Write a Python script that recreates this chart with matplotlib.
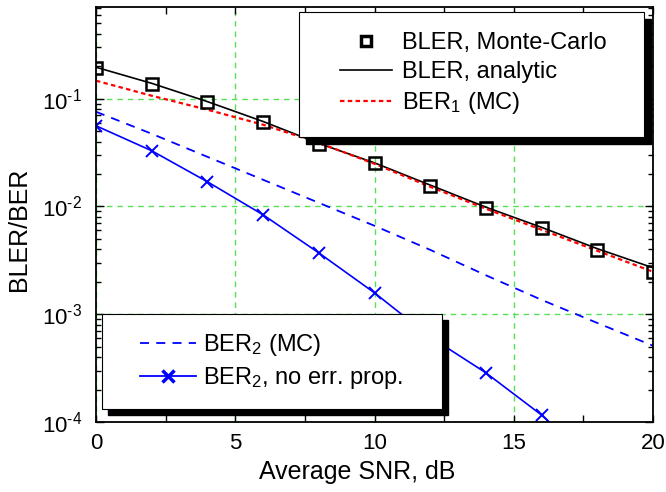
import numpy as np
import matplotlib
matplotlib.use('Agg')
import matplotlib.pyplot as plt
from matplotlib.patches import Rectangle
from matplotlib.ticker import MultipleLocator, LogLocator, NullFormatter, FuncFormatter

# data
snr = [0, 2, 4, 6, 8, 10, 12, 14, 16, 18, 20]
bler_mc = [0.194, 0.138, 0.0938, 0.0611, 0.0382, 0.0255, 0.01556, 0.00973, 0.00634, 0.00396, 0.00248]
bler_an = [0.196, 0.139, 0.0940, 0.0615, 0.0385, 0.0254, 0.0158, 0.00985, 0.00640, 0.00406, 0.00270]
ber1_mc = [0.147, 0.1066, 0.0791, 0.0574, 0.0390, 0.0249, 0.01524, 0.00952, 0.00608, 0.00388, 0.00248]
ber2_mc = [0.0757, 0.0473, 0.0289, 0.0177, 0.01082, 0.00662, 0.00396, 0.00230, 0.00136, 0.00083, 0.00051]
snr_nep = [0, 2, 4, 6, 8, 10, 12, 14, 16, 18]
ber2_nep = [0.0561, 0.0329, 0.01696, 0.00837, 0.00371, 0.00158, 0.000616, 0.000286, 0.000116, 0.00004]

plt.rcParams['font.family'] = 'Liberation Sans'
plt.rcParams['mathtext.fontset'] = 'custom'
plt.rcParams['mathtext.rm'] = 'Liberation Sans'
plt.rcParams['mathtext.it'] = 'Liberation Sans:italic'
plt.rcParams['mathtext.bf'] = 'Liberation Sans:bold'
plt.rcParams['font.size'] = 17

fig = plt.figure(figsize=(6.66, 4.92), dpi=100)
ax = fig.add_axes([96/666, 70/492, 557/666, 415/492])

ax.semilogy(snr, bler_an, '-', color='k', lw=1.2, zorder=2)
ax.semilogy(snr, ber1_mc, color='r', lw=1.6, dashes=(2, 1.5), zorder=2)
ax.semilogy(snr, ber2_mc, color='b', lw=1.3, dashes=(5, 4), zorder=2)
ax.semilogy(snr_nep, ber2_nep, '-', color='b', lw=1.2, marker='x', ms=9, mew=1.4, zorder=2)
ax.semilogy(snr, bler_mc, 'ks', ms=9, mfc='none', mew=1.8, zorder=3)

ax.set_xlim(0, 20)
ax.set_ylim(1e-4, 0.71)
ax.xaxis.set_major_locator(MultipleLocator(5))
ax.xaxis.set_minor_locator(MultipleLocator(2.5))
ax.yaxis.set_major_locator(LogLocator(base=10, numticks=10))
ax.yaxis.set_minor_locator(LogLocator(base=10, subs=np.arange(2, 10), numticks=20))
ax.yaxis.set_minor_formatter(NullFormatter())
ax.yaxis.set_major_formatter(FuncFormatter(
    lambda v, p: '$\\mathregular{10^{\u2010%d}}$' % round(-np.log10(v))))
ax.tick_params(which='both', direction='in', top=True, right=True, width=1, labelsize=16)
ax.tick_params(axis='x', which='both', length=5, pad=8)
ax.tick_params(axis='y', which='major', length=6, pad=10)
ax.tick_params(axis='y', which='minor', length=3.5)
for s in ax.spines.values():
    s.set_linewidth(1.3)

ax.grid(True, which='major', color='#55e055', ls=(0, (4, 3.5)), lw=1.0)
ax.set_axisbelow(True)

ax.set_xlabel('Average SNR, dB', fontsize=18)
ax.set_ylabel('BLER/BER', fontsize=18)
ax.xaxis.set_label_coords(0.4686, -0.0916)
ax.yaxis.set_label_coords(-0.1167, 0.465)

# legend boxes with MATLAB-like black shadow
def box(x0, y0, x1, y1, off):
    dx = off/557
    dy = off/415
    ax.add_patch(Rectangle((x0+dx, y0-dy), x1-x0, y1-y0, transform=ax.transAxes,
                           facecolor='k', edgecolor='k', zorder=4, clip_on=False))
    ax.add_patch(Rectangle((x0, y0), x1-x0, y1-y0, transform=ax.transAxes,
                           facecolor='w', edgecolor='k', lw=0.8, zorder=4.5, clip_on=False))

box(0.3645, 0.6867, 0.984, 0.988, 7)
box(0.0108, 0.0313, 0.6212, 0.2602, 6)

h1 = ax.plot([], [], 'ks', ms=7, mfc='none', mew=2.5)[0]
h2 = ax.plot([], [], '-', color='k', lw=1.2)[0]
h3 = ax.plot([], [], color='r', lw=1.6, dashes=(2, 1.5))[0]
leg1 = ax.legend([h1, h2, h3], ['BLER, Monte-Carlo', 'BLER, analytic', r'BER$_\mathregular{1}$ (MC)'],
                 loc='center', bbox_to_anchor=(0.677, 0.8386), frameon=False, borderpad=0,
                 handlelength=2.2, handletextpad=0.42, labelspacing=0.3)
leg1.set_zorder(6)
ax.add_artist(leg1)

h4 = ax.plot([], [], color='b', lw=1.3, dashes=(5, 4))[0]
h5 = ax.plot([], [], '-', color='b', lw=1.3, marker='x', ms=9, mew=2.5)[0]
leg2 = ax.legend([h4, h5], [r'BER$_\mathregular{2}$ (MC)', r'BER$_\mathregular{2}$, no err. prop.'],
                 loc='center', bbox_to_anchor=(0.315, 0.1458), frameon=False, borderpad=0,
                 handlelength=2.37, handletextpad=0.3, labelspacing=0.3)
leg2.set_zorder(6)

fig.savefig('out.png', dpi=100)
